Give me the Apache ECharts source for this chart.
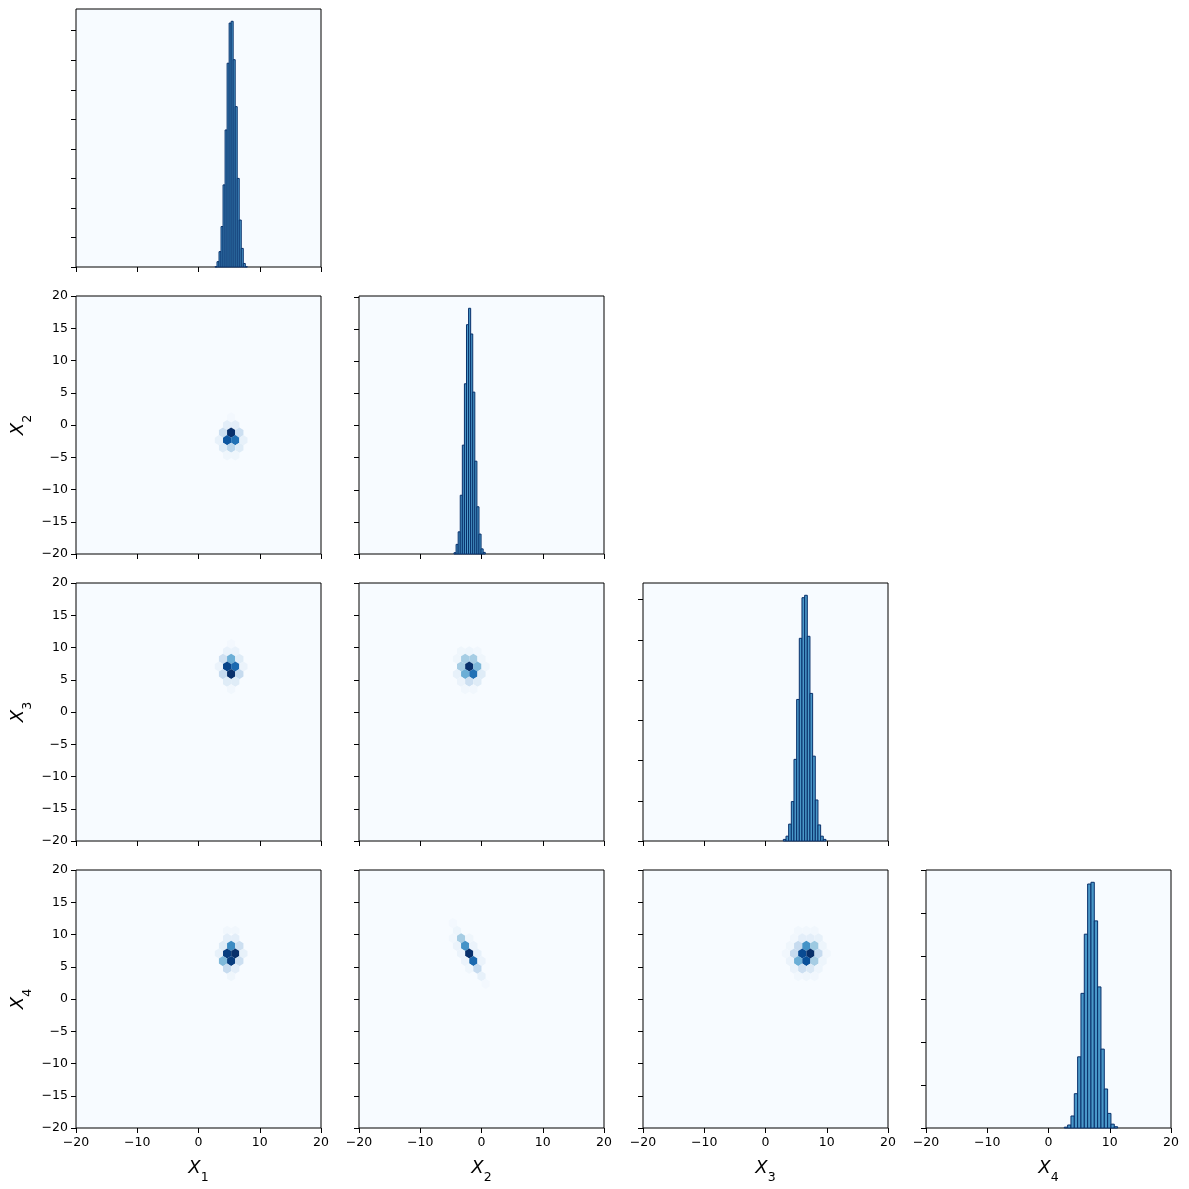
<!DOCTYPE html>
<html>
<head>
<meta charset="utf-8">
<script src="https://cdn.jsdelivr.net/npm/echarts@6/dist/echarts.min.js"></script>
<style>
  html, body { margin: 0; padding: 0; background: #fff; }
  #main { width: 1189px; height: 1189px; }
</style>
</head>
<body>
<div id="main"></div>
<script>
// variable subscripts (X_1 .. X_4)
var varSubs = ['1', '2', '3', '4'];
// shared tick values
var xTickValues = [-20, -10, 0, 10, 20];
var yTickValues = [-20, -15, -10, -5, 0, 5, 10, 15, 20];

// histograms on the diagonal: [first bin left edge, bin width] and counts
var hist1Bin = [2.69, 0.33];
var hist1Counts = [1, 18, 52, 137, 278, 464, 690, 826, 832, 702, 543, 300, 159, 63, 12, 1];
var hist2Bin = [-4.49, 0.34];
var hist2Counts = [4, 30, 69, 183, 339, 530, 714, 765, 685, 504, 289, 147, 62, 16, 5];
var hist3Bin = [2.91, 0.435];
var hist3Counts = [4, 12, 42, 98, 203, 352, 504, 605, 611, 509, 367, 211, 102, 40, 12, 4];
var hist4Bin = [2.58, 0.544];
var hist4Counts = [2, 7, 28, 80, 166, 314, 452, 569, 573, 483, 329, 184, 91, 34, 9, 3];
var histTickStep = 100;

// hexbin cells: [x centre, y centre, count as % of the panel maximum]
var hexX1X2 = [
  [5.33, 1.18, 2],
  [4.67, 0.00, 10], [6.00, 0.00, 10],
  [4.00, -1.18, 22], [5.33, -1.18, 100], [6.67, -1.18, 22],
  [3.33, -2.35, 8], [4.67, -2.35, 85], [6.00, -2.35, 75], [7.33, -2.35, 8],
  [4.00, -3.53, 12], [5.33, -3.53, 28], [6.67, -3.53, 12],
  [4.67, -4.71, 4], [6.00, -4.71, 4]
];
var hexX1X3 = [
  [5.33, 10.59, 2],
  [4.67, 9.41, 7], [6.00, 9.41, 7],
  [4.00, 8.24, 20], [5.33, 8.24, 50], [6.67, 8.24, 12],
  [3.33, 7.06, 6], [4.67, 7.06, 92], [6.00, 7.06, 78], [7.33, 7.06, 6],
  [4.00, 5.88, 25], [5.33, 5.88, 100], [6.67, 5.88, 25],
  [4.67, 4.71, 12], [6.00, 4.71, 12],
  [5.33, 3.53, 3]
];
var hexX1X4 = [
  [4.67, 10.59, 3], [6.00, 10.59, 3],
  [4.67, 9.41, 10], [6.00, 9.41, 10],
  [4.00, 8.24, 12], [5.33, 8.24, 65], [6.67, 8.24, 22],
  [3.33, 7.06, 8], [4.67, 7.06, 95], [6.00, 7.06, 100], [7.33, 7.06, 8],
  [4.00, 5.88, 45], [5.33, 5.88, 95], [6.67, 5.88, 22],
  [4.67, 4.71, 25], [6.00, 4.71, 10],
  [5.33, 3.53, 4]
];
var hexX2X3 = [
  [-3.33, 9.41, 4], [-2.00, 9.41, 5], [-0.67, 9.41, 3],
  [-4.00, 8.24, 4], [-2.67, 8.24, 35], [-1.33, 8.24, 35], [0.00, 8.24, 4],
  [-3.33, 7.06, 35], [-2.00, 7.06, 100], [-0.67, 7.06, 45], [0.67, 7.06, 4],
  [-4.00, 5.88, 8], [-2.67, 5.88, 50], [-1.33, 5.88, 75], [0.00, 5.88, 12],
  [-3.33, 4.71, 6], [-2.00, 4.71, 22], [-0.67, 4.71, 12],
  [-2.67, 3.53, 3], [-1.33, 3.53, 3]
];
var hexX2X4 = [
  [-4.67, 11.76, 2],
  [-4.00, 10.59, 5],
  [-4.67, 9.41, 3], [-3.33, 9.41, 35], [-2.00, 9.41, 4],
  [-4.00, 8.24, 6], [-2.67, 8.24, 62], [-1.33, 8.24, 6],
  [-3.33, 7.06, 6], [-2.00, 7.06, 100], [-0.67, 7.06, 8],
  [-2.67, 5.88, 6], [-1.33, 5.88, 78], [0.00, 5.88, 6],
  [-2.00, 4.71, 4], [-0.67, 4.71, 25],
  [0.00, 3.53, 8],
  [0.67, 2.35, 2]
];
var hexX3X4 = [
  [5.33, 10.59, 3], [6.67, 10.59, 3], [8.00, 10.59, 3],
  [4.67, 9.41, 3], [6.00, 9.41, 10], [7.33, 9.41, 10], [8.67, 9.41, 8],
  [4.00, 8.24, 4], [5.33, 8.24, 25], [6.67, 8.24, 62], [8.00, 8.24, 38], [9.33, 8.24, 5],
  [3.33, 7.06, 3], [4.67, 7.06, 25], [6.00, 7.06, 90], [7.33, 7.06, 100], [8.67, 7.06, 25], [10.00, 7.06, 3],
  [4.00, 5.88, 6], [5.33, 5.88, 50], [6.67, 5.88, 88], [8.00, 5.88, 35], [9.33, 5.88, 5],
  [4.67, 4.71, 6], [6.00, 4.71, 22], [7.33, 4.71, 15], [8.67, 4.71, 5],
  [5.33, 3.53, 3], [6.67, 3.53, 4], [8.00, 3.53, 3]
];

// hexbin grid: gridsize 30 over [-20, 20]
var HEX_SX = 40 / 30;
var HEX_SY = 40 / 17;
var HEX_SHAPE = [[0.5, -1 / 6], [0.5, 1 / 6], [0, 1 / 3], [-0.5, 1 / 6], [-0.5, -1 / 6], [0, -1 / 3]];
var BLUES = ['#f7fbff', '#deebf7', '#c6dbef', '#9ecae1', '#6baed6', '#4292c6', '#2171b5', '#08519c', '#08306b'];

var colLeft = [76, 359, 643, 926];
var rowTop = [9, 296, 583, 870];
var cellW = 245, cellH = 258;

var hists = [
  { bin: hist1Bin, counts: hist1Counts },
  { bin: hist2Bin, counts: hist2Counts },
  { bin: hist3Bin, counts: hist3Counts },
  { bin: hist4Bin, counts: hist4Counts }
];
var hexPanels = {
  '1,0': hexX1X2, '2,0': hexX1X3, '3,0': hexX1X4,
  '2,1': hexX2X3, '3,1': hexX2X4,
  '3,2': hexX3X4
};

function minusFmt(v) {
  return String(v).replace('-', '\u2212');
}
function nameOf(i) {
  return '{x|X}{s|' + varSubs[i] + '}';
}
var nameStyle = {
  rich: {
    x: { fontSize: 18, fontStyle: 'italic', fontFamily: 'DejaVu Sans', color: '#000', lineHeight: 24 },
    s: { fontSize: 12.5, fontFamily: 'DejaVu Sans', color: '#000', lineHeight: 24, verticalAlign: 'bottom', padding: [0, 0, -4, 0] }
  }
};
var labelStyle = { fontSize: 12.5, fontFamily: 'DejaVu Sans', color: '#000', margin: 8 };
var tickStyle = { show: true, length: 5, lineStyle: { color: '#000', width: 1 } };
var hiddenLine = { show: false, onZero: false };

function renderHex(params, api) {
  var cx = api.value(0), cy = api.value(1);
  var pts = HEX_SHAPE.map(function (p) {
    return api.coord([cx + p[0] * HEX_SX, cy + p[1] * HEX_SY]);
  });
  return {
    type: 'polygon',
    shape: { points: pts },
    style: { fill: api.visual('color') }
  };
}
function renderBar(params, api) {
  var p0 = api.coord([api.value(0), api.value(2)]);
  var p1 = api.coord([api.value(1), 0]);
  return {
    type: 'rect',
    shape: { x: p0[0], y: p0[1], width: p1[0] - p0[0], height: p1[1] - p0[1] },
    style: { fill: '#4a98c9', stroke: '#08306b', lineWidth: 1 }
  };
}

var grids = [], xAxes = [], yAxes = [], series = [], hexSeriesIdx = [];
var g = 0;
for (var r = 0; r < 4; r++) {
  for (var c = 0; c <= r; c++) {
    grids.push({
      left: colLeft[c], top: rowTop[r], width: cellW, height: cellH,
      show: true, backgroundColor: '#f7fbff', borderColor: '#000', borderWidth: 1
    });
    var bottom = (r === 3);
    xAxes.push({
      gridIndex: g, type: 'value', min: -20, max: 20, position: 'bottom',
      axisLine: hiddenLine, splitLine: { show: false },
      axisTick: Object.assign({ customValues: xTickValues }, tickStyle),
      axisLabel: Object.assign({ show: bottom, customValues: xTickValues, formatter: minusFmt }, labelStyle),
      name: bottom ? nameOf(c) : '', nameLocation: 'middle', nameGap: 28, nameTextStyle: nameStyle
    });
    if (r === c) {
      var h = hists[r];
      var peak = Math.max.apply(null, h.counts);
      var ticks = [];
      for (var t = 0; t <= peak * 1.05; t += histTickStep) ticks.push(t);
      yAxes.push({
        gridIndex: g, type: 'value', min: 0, max: peak * 1.05, position: 'left',
        axisLine: hiddenLine, splitLine: { show: false },
        axisTick: Object.assign({ customValues: ticks }, tickStyle),
        axisLabel: { show: false }
      });
      var bars = h.counts.map(function (v, i) {
        return [h.bin[0] + i * h.bin[1], h.bin[0] + (i + 1) * h.bin[1], v];
      });
      series.push({
        type: 'custom', xAxisIndex: g, yAxisIndex: g, renderItem: renderBar,
        data: bars, silent: true
      });
    } else {
      var left = (c === 0);
      yAxes.push({
        gridIndex: g, type: 'value', min: -20, max: 20, position: 'left',
        axisLine: hiddenLine, splitLine: { show: false },
        axisTick: Object.assign({ customValues: yTickValues }, tickStyle),
        axisLabel: Object.assign({ show: left, customValues: yTickValues, formatter: minusFmt }, labelStyle),
        name: left ? nameOf(r) : '', nameLocation: 'middle', nameGap: 46, nameRotate: 90,
        nameTextStyle: nameStyle
      });
      hexSeriesIdx.push(series.length);
      series.push({
        type: 'custom', xAxisIndex: g, yAxisIndex: g, renderItem: renderHex,
        encode: { x: 0, y: 1 }, data: hexPanels[r + ',' + c], silent: true
      });
    }
    g++;
  }
}

var chart = echarts.init(document.getElementById('main'), null, { renderer: 'canvas' });
chart.setOption({
  backgroundColor: '#fff',
  animation: false,
  grid: grids,
  xAxis: xAxes,
  yAxis: yAxes,
  visualMap: {
    type: 'continuous', show: false, min: 0, max: 100, dimension: 2,
    seriesIndex: hexSeriesIdx, inRange: { color: BLUES }
  },
  series: series
});
</script>
</body>
</html>
